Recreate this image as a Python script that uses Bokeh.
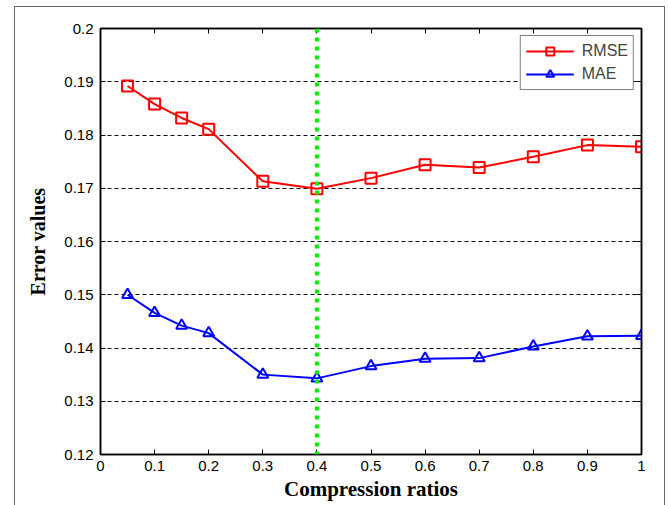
from bokeh.plotting import figure
from bokeh.models import Range1d, FixedTicker, LinearAxis, Span, Legend, LegendItem
from bokeh.embed import file_html
from bokeh.resources import INLINE

# ---- data ----
ratios = [0.05, 0.1, 0.15, 0.2, 0.3, 0.4, 0.5, 0.6, 0.7, 0.8, 0.9, 1.0]
rmse = [0.1892, 0.1858, 0.1832, 0.1811, 0.1713, 0.1699, 0.1719, 0.1744, 0.1739, 0.1759, 0.1781, 0.1778]
mae = [0.1500, 0.1466, 0.1442, 0.1428, 0.1350, 0.1343, 0.1366, 0.1380, 0.1381, 0.1403, 0.1422, 0.1423]
best_ratio = 0.4
x_ticks = [0, 0.1, 0.2, 0.3, 0.4, 0.5, 0.6, 0.7, 0.8, 0.9, 1.0]
x_tick_labels = ["0", "0.1", "0.2", "0.3", "0.4", "0.5", "0.6", "0.7", "0.8", "0.9", "1"]
y_ticks = [0.12, 0.13, 0.14, 0.15, 0.16, 0.17, 0.18, 0.19, 0.2]
y_tick_labels = ["0.12", "0.13", "0.14", "0.15", "0.16", "0.17", "0.18", "0.19", "0.2"]

TICK_FONT = "Liberation Sans"
TITLE_FONT = "Liberation Serif"

p = figure(width=669, height=505, output_backend="svg", toolbar_location=None,
           x_range=Range1d(0, 1), y_range=Range1d(0.12, 0.2),
           min_border_left=100, min_border_right=28, min_border_top=28, min_border_bottom=51,
           background_fill_color="white", border_fill_color=None,
           outline_line_color="black", outline_line_width=1.5)

p.styles = {
    "background-color": "white",
    "background-image": "linear-gradient(#666,#666), linear-gradient(#666,#666), linear-gradient(#666,#666)",
    "background-size": "1px 100%, 651px 1px, 1px 100%",
    "background-position": "14px 6px, 14px 6px, 664px 6px",
    "background-repeat": "no-repeat",
}

# axes
for ax in (p.xaxis[0], p.yaxis[0]):
    ax.major_tick_in = 5
    ax.major_tick_out = 0
    ax.minor_tick_line_color = None
    ax.axis_line_color = "black"
    ax.axis_line_width = 1.5
    ax.major_tick_line_width = 1
    ax.major_label_text_font = TICK_FONT
    ax.major_label_text_font_size = "15px"
    ax.major_label_text_color = "black"
    ax.axis_label_text_font = TITLE_FONT
    ax.axis_label_text_font_style = "bold"
    ax.axis_label_text_color = "black"

p.xaxis[0].ticker = FixedTicker(ticks=x_ticks)
p.xaxis[0].major_label_overrides = {t: l for t, l in zip(x_ticks, x_tick_labels)}
p.xaxis[0].axis_label = "Compression ratios"
p.xaxis[0].axis_label_text_font_size = "21px"
p.xaxis[0].major_label_standoff = 6
p.xaxis[0].axis_label_standoff = 3

p.yaxis[0].ticker = FixedTicker(ticks=y_ticks)
p.yaxis[0].major_label_overrides = {t: l for t, l in zip(y_ticks, y_tick_labels)}
p.yaxis[0].axis_label = "Error values"
p.yaxis[0].axis_label_text_font_size = "20px"
p.yaxis[0].major_label_standoff = 7
p.yaxis[0].axis_label_standoff = 12

top = LinearAxis(ticker=FixedTicker(ticks=x_ticks),
                 major_label_overrides={t: "" for t in x_ticks},
                 major_tick_in=5, major_tick_out=0, minor_tick_line_color=None,
                 axis_line_width=1.5, major_label_standoff=0)
right = LinearAxis(ticker=FixedTicker(ticks=y_ticks),
                   major_label_overrides={t: "" for t in y_ticks},
                   major_tick_in=5, major_tick_out=0, minor_tick_line_color=None,
                   axis_line_width=1.5, major_label_standoff=0)
p.add_layout(top, "above")
p.add_layout(right, "right")

# grid
p.xgrid.grid_line_color = None
p.ygrid.ticker = FixedTicker(ticks=y_ticks)
p.ygrid.grid_line_color = "black"
p.ygrid.grid_line_dash = "4 3"
p.ygrid.grid_line_width = 1

# green marker line
p.add_layout(Span(location=best_ratio, dimension="height", line_color="#00ee00",
                  line_width=4, line_dash="4 5"))

# series
r1 = p.line(ratios, rmse, line_color="#ff0000", line_width=2)
r1m = p.scatter(ratios, rmse, marker="square", size=11, line_color="#ff0000",
                line_width=2, fill_color=None)
r2 = p.line(ratios, mae, line_color="#0000ff", line_width=2)
r2m = p.scatter(ratios, mae, marker="triangle", size=11, line_color="#0000ff",
                line_width=2, fill_color=None)

legend = Legend(items=[LegendItem(label="RMSE", renderers=[r1, r1m]),
                       LegendItem(label="MAE", renderers=[r2, r2m])],
                location="top_right", margin=7, padding=5, spacing=3,
                glyph_width=48, glyph_height=20, label_standoff=8,
                label_text_font=TICK_FONT, label_text_font_size="16px",
                border_line_color="black", border_line_width=1.5,
                background_fill_color="white", background_fill_alpha=1)
p.add_layout(legend, "center")

open("out.html", "w").write(file_html(p, INLINE))
